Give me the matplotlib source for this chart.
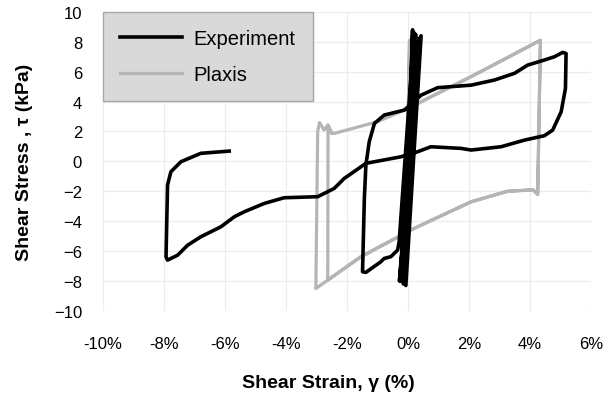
import matplotlib.pyplot as plt
from matplotlib.ticker import FuncFormatter

# Experiment: small cycles near zero strain, then the large loops (strain %, stress kPa)
exp_cycle_strain = [0.0, 0.15, -0.07, 0.43, -0.28, 0.35, -0.15, 0.25, -0.2, 0.3, -0.1, 0.4, -0.25, 0.2, -0.29]
exp_cycle_stress = [0.0, 8.8, -8.3, 8.4, -8.0, 8.2, -8.2, 8.5, -7.9, 8.0, -8.1, 8.3, -8.0, 8.6, -5.37]

exp_loop_strain = [-0.29, -0.34, -0.56, -0.78, -0.89, -1.38, -1.49, -1.43, -1.38, -1.27, -1.1, -0.78,
                   -0.12, 0.43, 0.97, 2.07, 2.83, 3.49, 3.92, 4.47, 4.8, 5.07, 5.18, 5.16, 5.02, 4.74,
                   4.47, 3.81, 3.05, 2.07, 1.74, 0.75, 0.32, -0.23, -1.38, -2.09, -2.42, -2.96, -4.06,
                   -4.71, -5.37, -5.69, -6.13, -6.79, -7.22, -7.55, -7.88, -7.93, -7.88, -7.77, -7.44,
                   -6.79, -5.86]
exp_loop_stress = [-5.37, -5.93, -6.37, -6.49, -6.71, -7.42, -7.38, -2.47, -0.25, 1.32, 2.54, 3.1,
                   3.43, 4.43, 4.93, 5.1, 5.44, 5.89, 6.44, 6.78, 7.0, 7.29, 7.22, 4.88, 3.32, 2.09,
                   1.72, 1.42, 0.98, 0.76, 0.87, 0.98, 0.65, 0.31, -0.13, -1.14, -1.81, -2.36, -2.43,
                   -2.81, -3.37, -3.7, -4.37, -5.04, -5.6, -6.27, -6.6, -6.38, -1.58, -0.69, -0.02,
                   0.54, 0.69]

# Plaxis: two loops sharing the upper and lower branches
plx_strain = [0.0, 0.05, -0.1, 0.0, 2.07, 4.34, 4.25, 4.1, 3.25, 2.07, 0.2, -1.54, -2.63, -2.62,
              -2.5, -2.42, -0.99, 0.0, 2.07, 4.34, 4.25, 4.1, 3.25, 2.07, 0.2, -1.54, -3.02,
              -2.96, -2.9, -2.75, -2.62, -2.5]
plx_stress = [0.0, 8.1, -8.0, 3.55, 5.67, 8.1, -2.2, -1.9, -2.0, -2.7, -4.48, -6.37, -7.94, 2.3,
              1.9, 1.87, 2.66, 3.55, 5.67, 8.1, -2.2, -1.9, -2.0, -2.7, -4.48, -6.37, -8.5,
              2.0, 2.6, 2.1, 2.45, 1.9]

plt.rcParams['font.family'] = ['Liberation Sans', 'DejaVu Sans']

fig = plt.figure(figsize=(6.05, 4.02), dpi=100)
ax = fig.add_axes([0.170, 0.224, 0.807, 0.744])

exp_x = exp_cycle_strain + exp_loop_strain
exp_y = exp_cycle_stress + exp_loop_stress
ax.plot(exp_x, exp_y, color='black', lw=2.6, solid_joinstyle='round', label='Experiment', zorder=3)
ax.plot(plx_strain, plx_stress, color='#b5b5b5', lw=2.3, solid_joinstyle='round',
        label='Plaxis', zorder=2)

ax.set_xlim(-10, 6)
ax.set_ylim(-10, 10)
ax.set_xticks(range(-10, 7, 2))
ax.set_yticks(range(-10, 11, 2))
ax.xaxis.set_major_formatter(FuncFormatter(lambda v, p: f'{v:.0f}%'))
ax.tick_params(length=0, labelsize=12)
ax.tick_params(axis='x', pad=18)
ax.tick_params(axis='y', pad=15)
for s in ax.spines.values():
    s.set_visible(False)
ax.grid(True, color='#ececec', lw=0.9)
ax.set_axisbelow(True)

fig.text(0.542, 0.045, 'Shear Strain, γ (%)', ha='center', va='center',
         fontsize=14, fontweight='bold')
fig.text(0.040, 0.596, 'Shear Stress , τ (kPa)', ha='center', va='center',
         rotation=90, fontsize=14, fontweight='bold')

leg = ax.legend(loc='upper left', bbox_to_anchor=(0, 1), borderaxespad=0, fontsize=14.5,
                handlelength=3.1, handletextpad=0.55, borderpad=0.85, labelspacing=0.85,
                fancybox=False, framealpha=1)
leg.get_frame().set_facecolor('#d9d9d9')
leg.get_frame().set_edgecolor('#a6a6a6')
leg.get_frame().set_linewidth(1.0)

fig.savefig('out.png', dpi=100)
